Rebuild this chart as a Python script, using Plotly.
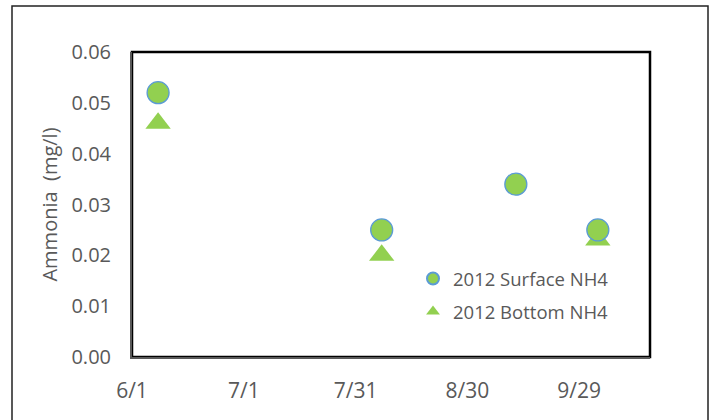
import plotly.graph_objects as go

# Data
dates = ["2012-06-08", "2012-08-07", "2012-09-12", "2012-10-04"]
surface_nh4 = [0.052, 0.025, 0.034, 0.025]
bottom_dates = ["2012-06-08", "2012-08-07", "2012-10-04"]
bottom_nh4 = [0.046, 0.020, 0.023]
y_ticks = [0.00, 0.01, 0.02, 0.03, 0.04, 0.05, 0.06]
y_tick_labels = ["0.00", "0.01", "0.02", "0.03", "0.04", "0.05", "0.06"]
x_ticks = ["2012-06-01", "2012-07-01", "2012-07-31", "2012-08-30", "2012-09-29"]
x_tick_labels = ["6/1", "7/1", "7/31", "8/30", "9/29"]

GREEN = "#92D050"
BLUE = "#5B9BD5"
GRAY = "#595959"
FONT = "Open Sans"

W, H = 710, 420
L, R, T, B = 132, 60, 52, 63
pw, ph = W - L - R, H - T - B

def px_x(x):
    return (x - L) / pw

def px_y(y):
    return (H - B - y) / ph

fig = go.Figure()
fig.add_trace(go.Scatter(
    x=bottom_dates, y=bottom_nh4, mode="markers", name="2012 Bottom NH4",
    legendrank=2, legendgroup="b",
    marker=dict(symbol="triangle-up", size=22, color=GREEN, line=dict(width=0)),
))
fig.add_trace(go.Scatter(
    x=dates, y=surface_nh4, mode="markers", name="2012 Surface NH4",
    legendrank=1, legendgroup="a",
    marker=dict(symbol="circle", size=22, color=GREEN, line=dict(color=BLUE, width=1.3)),
))

fig.update_layout(
    width=W, height=H,
    margin=dict(l=L, r=R, t=T, b=B),
    paper_bgcolor="white", plot_bgcolor="white",
    font=dict(family=FONT, size=20, color=GRAY),
    showlegend=True,
    legend=dict(
        x=px_x(413), y=px_y(260), xanchor="left", yanchor="top",
        bgcolor="rgba(0,0,0,0)", font=dict(size=18.5, color=GRAY, family=FONT),
        itemsizing="constant", traceorder="grouped", tracegroupgap=6,
    ),
    xaxis=dict(
        type="date", range=["2012-06-01", "2012-10-18"],
        tickvals=x_ticks, ticktext=x_tick_labels,
        showgrid=False, zeroline=False, showline=True, linecolor=GRAY, linewidth=2,
        ticks="", ticklabelstandoff=14, tickfont=dict(size=21, color=GRAY),
    ),
    yaxis=dict(
        range=[0, 0.06], tickvals=y_ticks, ticktext=y_tick_labels,
        showgrid=False, zeroline=False, showline=True, linecolor=GRAY, linewidth=2,
        ticks="", ticklabelstandoff=15, tickfont=dict(size=20, color=GRAY),
        title=dict(text="Ammonia\u00a0 (mg/l)", font=dict(size=20, color=GRAY), standoff=8),
    ),
    shapes=[
        dict(type="rect", xref="paper", yref="paper", x0=0, y0=0, x1=1, y1=1,
             line=dict(color="black", width=2.5), layer="below"),
        dict(type="rect", xref="paper", yref="paper",
             x0=px_x(12), y0=px_y(440), x1=px_x(708), y1=px_y(6),
             line=dict(color="#222222", width=1.5), layer="below"),
    ],
)

fig.write_html("out.html", config={"displayModeBar": False},
               post_script="document.body.style.margin='0';")
